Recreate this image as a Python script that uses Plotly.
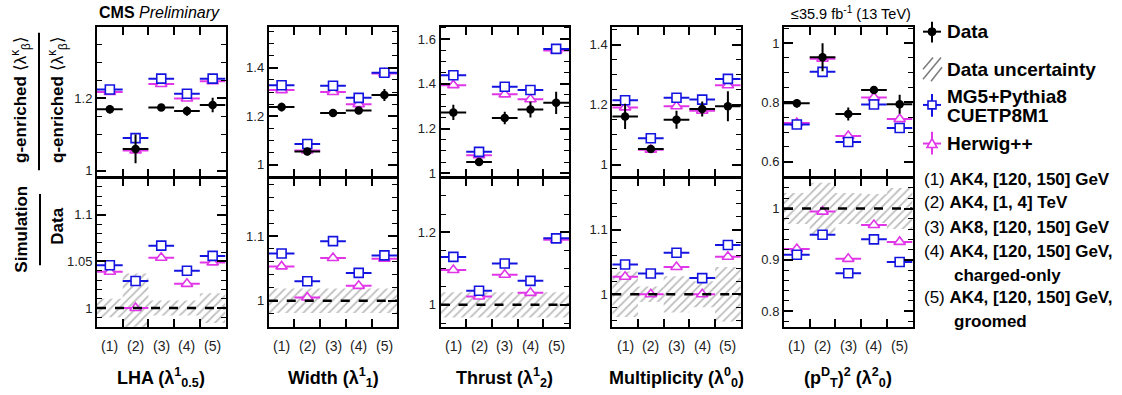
import plotly.graph_objects as go

W, H = 1122, 395
FONT = "Liberation Sans, Arial, Helvetica, sans-serif"
BLUE = "#1414e0"
MAG = "#e036e8"

# ---------------- data ----------------
categories = [1, 2, 3, 4, 5]
category_labels = ["(1)", "(2)", "(3)", "(4)", "(5)"]
bin_half_width = [0.5, 0.5, 0.5, 0.5, 0.5]

# LHA
lha_data = [1.170, 1.060, 1.175, 1.165, 1.182]
lha_data_err = [0.012, 0.040, 0.010, 0.013, 0.020]
lha_mg5 = [1.225, 1.090, 1.255, 1.213, 1.255]
lha_hpp = [1.218, 1.056, 1.240, 1.200, 1.248]
lha_mg5_ratio = [1.046, 1.029, 1.067, 1.040, 1.056]
lha_hpp_ratio = [1.039, 1.000, 1.054, 1.026, 1.049]
lha_band = [0.010, 0.037, 0.008, 0.008, 0.016]

# Width
width_data = [1.238, 1.054, 1.213, 1.224, 1.288]
width_data_err = [0.018, 0.015, 0.015, 0.012, 0.025]
width_mg5 = [1.328, 1.085, 1.326, 1.276, 1.380]
width_hpp = [1.308, 1.058, 1.300, 1.250, 1.377]
width_mg5_ratio = [1.073, 1.030, 1.092, 1.043, 1.070]
width_hpp_ratio = [1.053, 1.005, 1.066, 1.023, 1.065]
width_band = [0.019, 0.019, 0.019, 0.019, 0.019]

# Thrust
thrust_data = [1.272, 1.051, 1.247, 1.285, 1.315]
thrust_data_err = [0.034, 0.012, 0.028, 0.035, 0.050]
thrust_mg5 = [1.438, 1.096, 1.387, 1.372, 1.556]
thrust_hpp = [1.394, 1.081, 1.353, 1.331, 1.549]
thrust_mg5_ratio = [1.132, 1.039, 1.114, 1.066, 1.183]
thrust_hpp_ratio = [1.096, 1.023, 1.083, 1.033, 1.179]
thrust_band = [0.035, 0.035, 0.035, 0.035, 0.035]

# Multiplicity
mult_data = [1.161, 1.052, 1.150, 1.186, 1.195]
mult_data_err = [0.042, 0.010, 0.030, 0.025, 0.050]
mult_mg5 = [1.215, 1.088, 1.223, 1.217, 1.286]
mult_hpp = [1.191, 1.050, 1.195, 1.180, 1.265]
mult_mg5_ratio = [1.046, 1.032, 1.064, 1.025, 1.076]
mult_hpp_ratio = [1.027, 1.000, 1.042, 1.000, 1.058]
mult_band = [0.035, 0.012, 0.028, 0.020, 0.042]

# (pT^D)^2
ptd_data = [0.797, 0.952, 0.761, 0.842, 0.794]
ptd_data_err = [0.015, 0.047, 0.022, 0.010, 0.032]
ptd_mg5 = [0.726, 0.903, 0.667, 0.793, 0.714]
ptd_hpp = [0.731, 0.947, 0.687, 0.817, 0.744]
ptd_mg5_ratio = [0.910, 0.949, 0.874, 0.940, 0.896]
ptd_hpp_ratio = [0.921, 0.994, 0.902, 0.968, 0.935]
ptd_band = [0.030, 0.050, 0.030, 0.028, 0.040]

x_titles = [
    "<b>LHA (λ<sup>1</sup><sub>0.5</sub>)</b>",
    "<b>Width (λ<sup>1</sup><sub>1</sub>)</b>",
    "<b>Thrust (λ<sup>1</sup><sub>2</sub>)</b>",
    "<b>Multiplicity (λ<sup>0</sup><sub>0</sub>)</b>",
    "<b>(p<sup>D</sup><sub>T</sub>)<sup>2</sup> (λ<sup>2</sup><sub>0</sub>)</b>",
]

top_ranges = [[0.983, 1.399], [0.95, 1.57], [0.985, 1.655], [0.96, 1.46], [0.55, 1.055]]
top_dtick = [0.2, 0.2, 0.2, 0.2, 0.2]
top_minor = [0.05, 0.05, 0.05, 0.05, 0.05]
bot_ranges = [[0.98, 1.14], [0.96, 1.19], [0.94, 1.35], [0.95, 1.18], [0.77, 1.06]]
bot_dtick = [0.05, 0.1, 0.2, 0.1, 0.1]
bot_minor = [0.01, 0.02, 0.05, 0.02, 0.02]

panels = [
    (lha_data, lha_data_err, lha_mg5, lha_hpp, lha_mg5_ratio, lha_hpp_ratio, lha_band),
    (width_data, width_data_err, width_mg5, width_hpp, width_mg5_ratio, width_hpp_ratio, width_band),
    (thrust_data, thrust_data_err, thrust_mg5, thrust_hpp, thrust_mg5_ratio, thrust_hpp_ratio, thrust_band),
    (mult_data, mult_data_err, mult_mg5, mult_hpp, mult_mg5_ratio, mult_hpp_ratio, mult_band),
    (ptd_data, ptd_data_err, ptd_mg5, ptd_hpp, ptd_mg5_ratio, ptd_hpp_ratio, ptd_band),
]

# ---------------- layout geometry (pixels) ----------------
lefts = [97, 268.75, 440.5, 612.25, 784]
pw = 128.5
top_px = (27, 178.5)
bot_px = (179.5, 330)


def fx(px):
    return px / W


def fy(py):
    return 1 - py / H


fig = go.Figure()
layout = dict(
    width=W, height=H, autosize=False,
    margin=dict(l=0, r=0, t=0, b=0),
    paper_bgcolor="white", plot_bgcolor="white",
    showlegend=False,
    font=dict(family=FONT, color="black", size=13),
)

annotations = []
shapes = []
HATCH = "#7a7a7a"


def mc_trace(x, y, symbol, color, size, xa, ya):
    return go.Scatter(
        x=x, y=y, mode="markers", xaxis=xa, yaxis=ya,
        marker=dict(symbol=symbol, size=size, color="white", line=dict(color=color, width=1.6)),
        error_x=dict(type="data", array=bin_half_width, color=color, thickness=2, width=0),
        hoverinfo="skip", cliponaxis=False,
    )


for i, (d, derr, mg5, hpp, mg5r, hppr, band) in enumerate(panels):
    nt = i + 1
    nb = i + 6
    xt, yt = f"x{nt}", f"y{nt}"
    xb, yb = f"x{nb}", f"y{nb}"

    # top panel: g/q ratios
    fig.add_trace(mc_trace(categories, hpp, "triangle-up", MAG, 10, xt, yt))
    fig.add_trace(mc_trace(categories, mg5, "square", BLUE, 9, xt, yt))
    fig.add_trace(go.Scatter(
        x=categories, y=d, mode="markers", xaxis=xt, yaxis=yt,
        marker=dict(symbol="circle", size=8.5, color="black"),
        error_x=dict(type="data", array=bin_half_width, color="black", thickness=2, width=0),
        error_y=dict(type="data", array=derr, color="black", thickness=2, width=0),
        hoverinfo="skip", cliponaxis=False,
    ))

    # bottom panel: simulation / data
    fig.add_trace(go.Bar(
        x=categories, y=[2 * e for e in band], base=[1 - e for e in band], width=1,
        xaxis=xb, yaxis=yb,
        marker=dict(color="rgba(0,0,0,0)", line=dict(width=0),
                    pattern=dict(shape="/", fgcolor=HATCH, bgcolor="rgba(0,0,0,0)",
                                 size=6, solidity=0.3, fillmode="overlay")),
        hoverinfo="skip",
    ))
    fig.add_trace(mc_trace(categories, hppr, "triangle-up", MAG, 10, xb, yb))
    fig.add_trace(mc_trace(categories, mg5r, "square", BLUE, 9, xb, yb))

    shapes.append(dict(type="line", xref=f"{xb} domain", yref=yb, x0=0, x1=1, y0=1, y1=1,
                       line=dict(color="black", width=2.5, dash="dash"), layer="above"))

    dom_x = [fx(lefts[i]), fx(lefts[i] + pw)]
    common_x = dict(range=[0.5, 5.5], tickmode="array", tickvals=[1.5, 2.5, 3.5, 4.5],
                    ticks="inside", ticklen=8, tickwidth=1.5, tickcolor="black",
                    showticklabels=False, showline=True, linewidth=2, linecolor="black",
                    mirror="ticks", showgrid=False, zeroline=False, domain=dom_x)
    layout[f"xaxis{nt}"] = dict(common_x, anchor=yt)
    layout[f"xaxis{nb}"] = dict(common_x, anchor=yb)

    def yax(rng, dt, mn, anchor, dom):
        return dict(range=rng, tickmode="linear", tick0=0, dtick=dt, ticks="inside",
                    ticklen=9, tickwidth=1.5, tickcolor="black",
                    minor=dict(tickmode="linear", tick0=0, dtick=mn, ticks="inside", ticklen=5,
                               tickwidth=1.2, tickcolor="black", showgrid=False),
                    showline=True, linewidth=2, linecolor="black", mirror="ticks",
                    showgrid=False, zeroline=False, anchor=anchor, domain=dom,
                    tickfont=dict(size=13, color="#222"))

    layout[f"yaxis{nt}"] = yax(top_ranges[i], top_dtick[i], top_minor[i], xt,
                               [fy(top_px[1]), fy(top_px[0])])
    layout[f"yaxis{nb}"] = yax(bot_ranges[i], bot_dtick[i], bot_minor[i], xb,
                               [fy(bot_px[1]), fy(bot_px[0])])

    for k, lab in zip(categories, category_labels):
        annotations.append(dict(xref=xb, yref="paper", x=k, y=fy(350), text=lab,
                                showarrow=False, xanchor="center", yanchor="middle",
                                font=dict(size=14, color="#222")))
    annotations.append(dict(xref=f"{xb} domain", yref="paper", x=0.5, y=fy(381), text=x_titles[i],
                            showarrow=False, xanchor="center", yanchor="middle",
                            font=dict(size=18)))

# header texts
annotations.append(dict(xref="paper", yref="paper", x=fx(97), y=fy(13), showarrow=False,
                        xanchor="left", yanchor="middle",
                        text="<b>CMS</b> <i>Preliminary</i>", font=dict(size=16)))
annotations.append(dict(xref="paper", yref="paper", x=fx(913), y=fy(13), showarrow=False,
                        xanchor="right", yanchor="middle",
                        text="≤35.9 fb<sup>-1</sup> (13 TeV)", font=dict(size=14.5)))

# y-axis titles
annotations.append(dict(xref="paper", yref="paper", x=fx(21), y=fy(101), showarrow=False,
                        textangle=-90, xanchor="center", yanchor="middle",
                        text="<b>g-enriched</b> ⟨λ<sup>κ</sup><sub>β</sub>⟩", font=dict(size=17)))
annotations.append(dict(xref="paper", yref="paper", x=fx(58), y=fy(101), showarrow=False,
                        textangle=-90, xanchor="center", yanchor="middle",
                        text="<b>q-enriched</b> ⟨λ<sup>κ</sup><sub>β</sub>⟩", font=dict(size=17)))
shapes.append(dict(type="line", xref="paper", yref="paper", x0=fx(39), x1=fx(39),
                   y0=fy(33), y1=fy(172), line=dict(color="black", width=2)))
annotations.append(dict(xref="paper", yref="paper", x=fx(22), y=fy(232), showarrow=False,
                        textangle=-90, xanchor="center", yanchor="middle",
                        text="<b>Simulation</b>", font=dict(size=17)))
annotations.append(dict(xref="paper", yref="paper", x=fx(58), y=fy(229), showarrow=False,
                        textangle=-90, xanchor="center", yanchor="middle",
                        text="<b>Data</b>", font=dict(size=17)))
shapes.append(dict(type="line", xref="paper", yref="paper", x0=fx(40), x1=fx(40),
                   y0=fy(196), y1=fy(268), line=dict(color="black", width=2)))

# legend (drawn manually)
lx = 932
# Data
shapes.append(dict(type="line", xref="paper", yref="paper", x0=fx(lx), x1=fx(lx), y0=fy(22), y1=fy(43),
                   line=dict(color="black", width=2)))
shapes.append(dict(type="line", xref="paper", yref="paper", x0=fx(923), x1=fx(941), y0=fy(32), y1=fy(32),
                   line=dict(color="black", width=2)))
shapes.append(dict(type="circle", xref="paper", yref="paper", x0=fx(lx - 4), x1=fx(lx + 4),
                   y0=fy(36), y1=fy(28), fillcolor="black", line=dict(color="black", width=1)))
# Data uncertainty (hatch)
for (ax0, ay0, ax1, ay1) in [(923, 70, 933, 58), (923, 80, 941, 58), (931, 82, 942, 68)]:
    shapes.append(dict(type="line", xref="paper", yref="paper",
                       x0=fx(ax0), x1=fx(ax1), y0=fy(ay0), y1=fy(ay1),
                       line=dict(color=HATCH, width=1.5)))
# MG5
shapes.append(dict(type="line", xref="paper", yref="paper", x0=fx(lx), x1=fx(lx), y0=fy(95), y1=fy(118),
                   line=dict(color=BLUE, width=2)))
shapes.append(dict(type="line", xref="paper", yref="paper", x0=fx(923), x1=fx(941), y0=fy(106), y1=fy(106),
                   line=dict(color=BLUE, width=2)))
shapes.append(dict(type="rect", xref="paper", yref="paper", x0=fx(lx - 4), x1=fx(lx + 4),
                   y0=fy(110), y1=fy(102), fillcolor="white", line=dict(color=BLUE, width=1.6)))
# Herwig
shapes.append(dict(type="line", xref="paper", yref="paper", x0=fx(lx), x1=fx(lx), y0=fy(133), y1=fy(156),
                   line=dict(color=MAG, width=2)))
shapes.append(dict(type="line", xref="paper", yref="paper", x0=fx(923), x1=fx(941), y0=fy(145), y1=fy(145),
                   line=dict(color=MAG, width=2)))
shapes.append(dict(type="path", xref="paper", yref="paper",
                   path=f"M {fx(lx-5)},{fy(149)} L {fx(lx+5)},{fy(149)} L {fx(lx)},{fy(140)} Z",
                   fillcolor="white", line=dict(color=MAG, width=1.6)))

legend_texts = [("Data", 32), ("Data uncertainty", 70), ("MG5+Pythia8", 97),
                ("CUETP8M1", 117), ("Herwig++", 145)]
for t, yy in legend_texts:
    annotations.append(dict(xref="paper", yref="paper", x=fx(945), y=fy(yy), showarrow=False,
                            xanchor="left", yanchor="middle", text=f"<b>{t}</b>", font=dict(size=19)))

list_texts = [("(1) <b>AK4, [120, 150] GeV</b>", 922, 181),
              ("(2) <b>AK4, [1, 4] TeV</b>", 922, 205),
              ("(3) <b>AK8, [120, 150] GeV</b>", 922, 230),
              ("(4) <b>AK4, [120, 150] GeV,</b>", 922, 254),
              ("<b>charged-only</b>", 952, 278),
              ("(5) <b>AK4, [120, 150] GeV,</b>", 922, 301),
              ("<b>groomed</b>", 952, 325)]
for t, xx, yy in list_texts:
    annotations.append(dict(xref="paper", yref="paper", x=fx(xx), y=fy(yy), showarrow=False,
                            xanchor="left", yanchor="middle", text=t, font=dict(size=17)))

layout["annotations"] = annotations
layout["shapes"] = shapes
fig.update_layout(**layout)
fig.write_html("out.html")
